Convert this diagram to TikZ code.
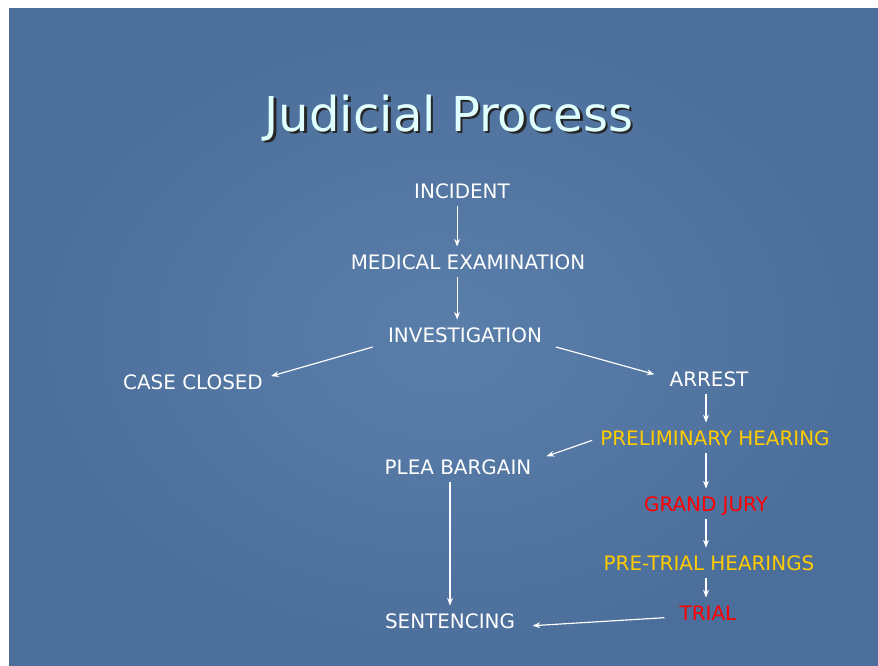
\documentclass[tikz,border=0pt]{standalone}
\usepackage{fontspec}
\setmainfont{DejaVu Sans}
\usetikzlibrary{positioning, arrows.meta}
\definecolor{slideblue}{RGB}{90,126,170}
\definecolor{slideedge}{RGB}{76,110,154}
\definecolor{titlecyan}{RGB}{224,255,255}
\definecolor{stepgold}{RGB}{255,204,0}
\definecolor{stepred}{RGB}{255,0,0}

\begin{document}
\begin{tikzpicture}
[
    x=0.03cm, y=-0.03cm,
    plain_node/.style={inner sep=6.8pt, text height=12.4pt, text depth=0pt, font=\fontsize{17}{20}\selectfont, text=white},
    gold_node/.style={plain_node, text=stepgold},
    red_node/.style={plain_node, text=stepred},
    title_node/.style={inner sep=0pt, font=\fontsize{41}{48}\selectfont},
    flow_arrow/.style={-{Stealth[length=6.5pt, width=5pt]}, line width=1pt, color=white},
]
    \useasboundingbox (0,0) rectangle (878,665) ;
    \fill[white] (0,0) rectangle (878,665) ;
    \shade[inner color=slideblue, outer color=slideedge] (9,8) rectangle (878,665) ;

    \node[title_node, text=black!85] (shadow) at (451.5,120.5) {Judicial Process} ;
    \node[title_node, text=titlecyan] (title) at (449,118) {Judicial Process} ;

    \node[plain_node] (incident) at (462,191) {INCIDENT} ;
    \node[plain_node] (medical) at (468,262) {MEDICAL EXAMINATION} ;
    \node[plain_node] (investigation) at (465,335) {INVESTIGATION} ;
    \node[plain_node] (closed) at (193,382) {CASE CLOSED} ;
    \node[plain_node] (arrest) at (709,379) {ARREST} ;
    \node[gold_node] (prelim) at (715,438) {PRELIMINARY HEARING} ;
    \node[plain_node] (plea) at (458,467) {PLEA BARGAIN} ;
    \node[red_node] (grand) at (706,504) {GRAND JURY} ;
    \node[gold_node] (pretrial) at (709,563) {PRE-TRIAL HEARINGS} ;
    \node[red_node] (trial) at (708,613) {TRIAL} ;
    \node[plain_node] (sentencing) at (450,621) {SENTENCING} ;

    \draw[flow_arrow] ([xshift=-4.2pt]incident.south) -- ([xshift=-4.2pt]incident.south |- medical.north) ;
    \draw[flow_arrow] ([xshift=-4.2pt]incident.south |- medical.south) -- ([xshift=-4.2pt]incident.south |- investigation.north) ;
    \draw[flow_arrow] ([xshift=-6pt, yshift=3pt]investigation.south west) -- ([yshift=5pt]closed.east) ;
    \draw[flow_arrow] ([xshift=5pt, yshift=3pt]investigation.south east) -- ([xshift=-6pt, yshift=4pt]arrest.west) ;
    \draw[flow_arrow] (arrest.south -| grand) -- (prelim.north -| grand) ;
    \draw[flow_arrow] ([yshift=-2pt]prelim.west) -- ([xshift=6pt, yshift=-4pt]plea.north east) ;
    \draw[flow_arrow] (prelim.south -| grand) -- (grand.north) ;
    \draw[flow_arrow] (grand.south) -- (pretrial.north -| grand) ;
    \draw[flow_arrow] (pretrial.south -| grand) -- (trial.north -| grand) ;
    \draw[flow_arrow] ([xshift=-6pt, yshift=-4pt]trial.west) -- ([xshift=8pt, yshift=-4pt]sentencing.east) ;
    \draw[flow_arrow] (plea.south -| sentencing) -- (sentencing.north) ;
\end{tikzpicture}
\end{document}
